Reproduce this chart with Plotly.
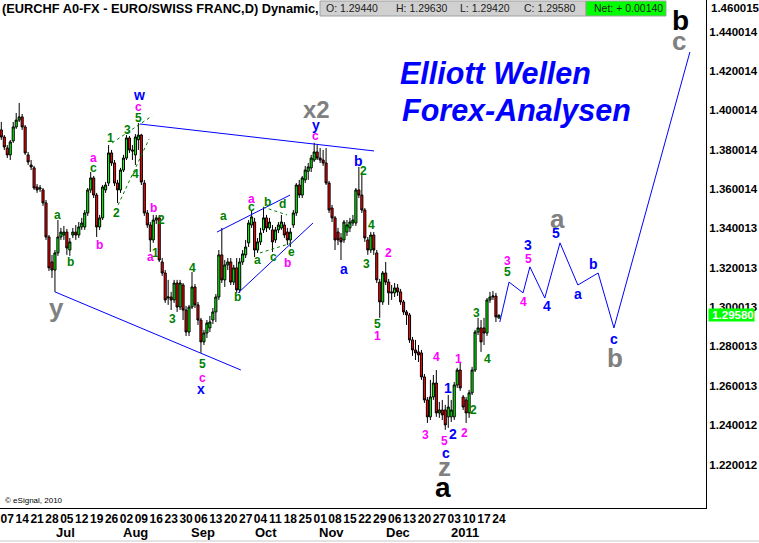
import plotly.graph_objects as go

# ---------------- data ----------------
open_ = [1.3900,1.3864,1.3808,1.3773,1.3844,1.3915,1.3950,1.3966,1.3915,1.3773,
         1.3722,1.3707,1.3610,1.3600,1.3595,1.3529,1.3356,1.3229,1.3188,1.3275,
         1.3356,1.3366,1.3381,1.3290,1.3366,1.3381,1.3366,1.3407,1.3407,1.3478,
         1.3595,1.3656,1.3569,1.3407,1.3453,1.3595,1.3630,1.3783,1.3732,1.3630,
         1.3595,1.3696,1.3757,1.3859,1.3798,1.3773,1.3850,1.3874,1.3630,1.3478,
         1.3417,1.3341,1.3442,1.3453,1.3229,1.3173,1.3046,1.3051,1.3036,1.3122,
         1.3000,1.3112,1.2985,1.2873,1.3000,1.3102,1.3011,1.2934,1.2823,1.2868,
         1.2894,1.2934,1.2975,1.3051,1.3265,1.3138,1.3214,1.3229,1.3127,1.3199,
         1.3087,1.3229,1.3265,1.3326,1.3417,1.3432,1.3290,1.3331,1.3392,1.3453,
         1.3402,1.3392,1.3341,1.3392,1.3402,1.3417,1.3381,1.3341,1.3417,1.3478,
         1.3620,1.3569,1.3646,1.3690,1.3707,1.3747,1.3788,1.3757,1.3747,1.3732,
         1.3630,1.3503,1.3453,1.3381,1.3351,1.3341,1.3381,1.3402,1.3427,1.3427,
         1.3595,1.3569,1.3493,1.3341,1.3290,1.3366,1.3275,1.3127,1.3026,1.3173,
         1.3127,1.3077,1.3072,1.3097,1.3077,1.3026,1.2975,1.2960,1.2833,1.2782,
         1.2772,1.2767,1.2645,1.2528,1.2442,1.2543,1.2614,1.2462,1.2477,1.2477,
         1.2442,1.2442,1.2442,1.2604,1.2680,1.2543,1.2528,1.2462,1.2564,1.2680,
         1.2873,1.2894,1.2894,1.2868,1.3036,1.3051,1.3056,1.2944]
high_ = [1.3940,1.3874,1.3823,1.3849,1.3940,1.3986,1.4037,1.3981,1.3925,1.3788,
         1.3747,1.3717,1.3625,1.3620,1.3605,1.3544,1.3366,1.3265,1.3290,1.3442,
         1.3402,1.3412,1.3397,1.3351,1.3402,1.3417,1.3432,1.3453,1.3493,1.3605,
         1.3686,1.3666,1.3580,1.3468,1.3620,1.3635,1.3823,1.3798,1.3747,1.3646,
         1.3707,1.3773,1.3874,1.3869,1.3823,1.3879,1.3935,1.3880,1.3646,1.3493,
         1.3432,1.3468,1.3468,1.3468,1.3249,1.3188,1.3138,1.3077,1.3138,1.3138,
         1.3138,1.3122,1.3006,1.3011,1.3178,1.3117,1.3026,1.2945,1.2884,1.2934,
         1.2955,1.2995,1.3066,1.3290,1.3402,1.3239,1.3249,1.3249,1.3214,1.3249,
         1.3249,1.3290,1.3341,1.3442,1.3493,1.3453,1.3351,1.3402,1.3508,1.3468,
         1.3453,1.3417,1.3407,1.3432,1.3468,1.3432,1.3402,1.3402,1.3493,1.3630,
         1.3646,1.3666,1.3717,1.3732,1.3773,1.3834,1.3823,1.3808,1.3798,1.3808,
         1.3641,1.3519,1.3463,1.3402,1.3376,1.3442,1.3442,1.3453,1.3468,1.3605,
         1.3712,1.3681,1.3503,1.3356,1.3381,1.3381,1.3290,1.3143,1.3183,1.3229,
         1.3143,1.3112,1.3122,1.3117,1.3092,1.3036,1.2985,1.2970,1.2848,1.2833,
         1.2807,1.2782,1.2660,1.2543,1.2630,1.2655,1.2680,1.2518,1.2528,1.2503,
         1.2553,1.2528,1.2619,1.2691,1.2716,1.2553,1.2543,1.2579,1.2696,1.2884,
         1.2945,1.2934,1.2945,1.3046,1.3077,1.3082,1.3072,1.2963]
low_ = [1.3849,1.3798,1.3757,1.3747,1.3834,1.3905,1.3940,1.3900,1.3773,1.3722,
        1.3696,1.3595,1.3580,1.3585,1.3514,1.3341,1.3183,1.3148,1.3077,1.3260,
        1.3341,1.3341,1.3265,1.3260,1.3351,1.3341,1.3351,1.3392,1.3392,1.3463,
        1.3580,1.3554,1.3356,1.3392,1.3442,1.3580,1.3615,1.3717,1.3615,1.3529,
        1.3580,1.3686,1.3747,1.3783,1.3747,1.3722,1.3798,1.3620,1.3463,1.3402,
        1.3280,1.3326,1.3422,1.3229,1.3158,1.3021,1.3011,1.2985,1.3021,1.2975,
        1.2985,1.2934,1.2853,1.2853,1.2990,1.2995,1.2909,1.2767,1.2807,1.2843,
        1.2873,1.2914,1.2924,1.3036,1.3122,1.3102,1.3188,1.3112,1.3112,1.3072,
        1.3072,1.3214,1.3249,1.3305,1.3402,1.3254,1.3275,1.3315,1.3376,1.3381,
        1.3392,1.3280,1.3326,1.3376,1.3392,1.3351,1.3315,1.3305,1.3402,1.3463,
        1.3554,1.3554,1.3630,1.3646,1.3686,1.3737,1.3747,1.3732,1.3717,1.3620,
        1.3478,1.3432,1.3290,1.3315,1.3239,1.3326,1.3361,1.3381,1.3412,1.3412,
        1.3554,1.3478,1.3331,1.3265,1.3275,1.3265,1.3122,1.2945,1.3011,1.3112,
        1.3011,1.3036,1.3051,1.3056,1.3011,1.2960,1.2909,1.2818,1.2752,1.2731,
        1.2721,1.2630,1.2513,1.2411,1.2426,1.2528,1.2442,1.2437,1.2426,1.2376,
        1.2386,1.2416,1.2426,1.2589,1.2574,1.2477,1.2411,1.2437,1.2553,1.2670,
        1.2858,1.2772,1.2807,1.2853,1.3021,1.3036,1.2924,1.2942]
close_ = [1.3864,1.3813,1.3773,1.3839,1.3915,1.3950,1.3966,1.3915,1.3783,1.3737,
          1.3712,1.3605,1.3595,1.3605,1.3529,1.3356,1.3199,1.3188,1.3275,1.3356,
          1.3381,1.3381,1.3300,1.3331,1.3381,1.3366,1.3407,1.3427,1.3478,1.3595,
          1.3656,1.3569,1.3407,1.3453,1.3610,1.3620,1.3783,1.3732,1.3630,1.3595,
          1.3696,1.3757,1.3859,1.3798,1.3793,1.3864,1.3874,1.3635,1.3478,1.3417,
          1.3341,1.3442,1.3453,1.3239,1.3173,1.3036,1.3051,1.3036,1.3122,1.3000,
          1.3122,1.2985,1.2873,1.3000,1.3102,1.3011,1.2934,1.2823,1.2868,1.2919,
          1.2924,1.2975,1.3051,1.3265,1.3138,1.3214,1.3229,1.3127,1.3199,1.3087,
          1.3229,1.3270,1.3305,1.3427,1.3458,1.3290,1.3331,1.3376,1.3453,1.3402,
          1.3432,1.3331,1.3392,1.3417,1.3432,1.3366,1.3341,1.3381,1.3478,1.3620,
          1.3569,1.3656,1.3696,1.3712,1.3757,1.3788,1.3757,1.3747,1.3732,1.3630,
          1.3493,1.3453,1.3341,1.3341,1.3331,1.3432,1.3417,1.3432,1.3442,1.3595,
          1.3569,1.3493,1.3351,1.3290,1.3366,1.3290,1.3138,1.3026,1.3173,1.3127,
          1.3072,1.3072,1.3097,1.3077,1.3026,1.2975,1.2960,1.2833,1.2782,1.2767,
          1.2757,1.2645,1.2528,1.2442,1.2543,1.2614,1.2462,1.2477,1.2452,1.2401,
          1.2492,1.2477,1.2604,1.2680,1.2589,1.2492,1.2462,1.2564,1.2680,1.2873,
          1.2894,1.2823,1.2868,1.3036,1.3051,1.3056,1.2950,1.2958]

week_ticks = ["07","14","21","28","05","12","19","26","02","09","16","23","30",
              "06","13","20","27","04","11","18","25","01","08","15","22","29",
              "06","13","20","27","03","10","17","24"]
month_names = ["Jul", "Aug", "Sep", "Oct", "Nov", "Dec", "2011"]
month_bar = [21.4, 45.2, 67.7, 88.8, 110.9, 133.1, 155.6]

price_ticks = [1.22, 1.24, 1.26, 1.28, 1.30, 1.32, 1.34, 1.36, 1.38, 1.40, 1.42, 1.44]
price_tick_text = ["1.220012", "1.240012", "1.260013", "1.280013", "1.300013", "1.320013",
                   "1.340013", "1.360014", "1.380014", "1.400014", "1.420014", "1.440014"]

# projected wave path (bar index, price)
proj_x = [167.3, 170.4, 175.1, 177.4, 182.4, 187.5, 193.5, 200.3, 205.6, 231.1]
proj_y = [1.2924, 1.3127, 1.3072, 1.3204, 1.3046, 1.3326, 1.3112, 1.3173, 1.2894, 1.4296]

# blue trend lines (start/end bar index and price)
lower_line_x = [18.0, 80.4]
lower_line_y = [1.3077, 1.2680]
upper_line_x = [46.5, 125.1]
upper_line_y = [1.3930, 1.3793]
chan_top_x = [72.4, 96.9]
chan_top_y = [1.3381, 1.3569]
chan_bot_x = [79.5, 104.6]
chan_bot_y = [1.3072, 1.3427]
# green wedge / triangle lines
wedge_top_x = [37.2, 50.6]
wedge_top_y = [1.3834, 1.3971]
wedge_bot_x = [39.2, 49.6]
wedge_bot_y = [1.3519, 1.3854]
tri_top_x = [87.8, 95.9]
tri_top_y = [1.3508, 1.3468]
tri_bot_x = [86.8, 97.6]
tri_bot_y = [1.3275, 1.3326]

GREEN, MAG, BLUE, GRAY, BLACK = "#008000", "#ff00ff", "#0000ff", "#808080", "#000000"

# wave labels: text, colour, font size, bar index, price
labels = [
    ("w", BLUE, 14, 46.2, 1.4077), ("c", MAG, 12, 45.9, 1.4016), ("5", GREEN, 12, 45.9, 1.3961),
    ("1", GREEN, 12, 36.8, 1.3859), ("3", GREEN, 12, 42.2, 1.3900), ("2", GREEN, 12, 38.8, 1.3478),
    ("4", GREEN, 12, 44.9, 1.3676), ("a", MAG, 12, 30.8, 1.3757), ("c", GREEN, 12, 31.1, 1.3707),
    ("a", GREEN, 12, 18.7, 1.3468), ("b", GREEN, 12, 23.1, 1.3229), ("b", MAG, 12, 33.1, 1.3315),
    ("b", MAG, 12, 51.2, 1.3503), ("2", GREEN, 12, 53.9, 1.3442), ("a", MAG, 12, 50.2, 1.3254),
    ("1", GREEN, 12, 51.9, 1.3275), ("4", GREEN, 12, 64.3, 1.3199), ("3", GREEN, 12, 57.3, 1.2940),
    ("5", GREEN, 12, 67.4, 1.2711), ("c", MAG, 12, 67.4, 1.2640), ("x", BLUE, 14, 67.0, 1.2584),
    ("y", GRAY, 26, 18.4, 1.2995), ("a", GREEN, 12, 74.4, 1.3463), ("b", GREEN, 12, 79.4, 1.3051),
    ("x2", GRAY, 24, 105.9, 1.4006), ("y", BLUE, 14, 105.6, 1.3925), ("c", MAG, 12, 105.3, 1.3869),
    ("a", MAG, 12, 84.1, 1.3549), ("c", GREEN, 12, 84.1, 1.3508), ("b", GREEN, 12, 89.5, 1.3534),
    ("d", GREEN, 12, 94.5, 1.3524), ("a", GREEN, 12, 86.1, 1.3239), ("c", GREEN, 12, 91.2, 1.3254),
    ("e", GREEN, 12, 97.5, 1.3280), ("b", MAG, 12, 96.2, 1.3224), ("b", BLUE, 14, 120.0, 1.3742),
    ("2", GREEN, 12, 121.4, 1.3691), ("4", GREEN, 12, 124.4, 1.3417), ("a", BLUE, 14, 115.0, 1.3194),
    ("3", GREEN, 12, 122.4, 1.3219), ("2", MAG, 12, 129.8, 1.3275), ("5", GREEN, 12, 126.4, 1.2914),
    ("1", MAG, 12, 126.4, 1.2853), ("4", MAG, 12, 145.9, 1.2747), ("1", BLUE, 14, 149.9, 1.2589),
    ("1", MAG, 12, 153.6, 1.2736), ("3", MAG, 12, 142.5, 1.2350), ("2", BLUE, 14, 151.6, 1.2355),
    ("2", MAG, 12, 155.6, 1.2360), ("2", GREEN, 12, 158.6, 1.2477), ("3", GREEN, 12, 159.6, 1.2970),
    ("4", GREEN, 12, 163.0, 1.2736), ("3", MAG, 12, 170.0, 1.3234), ("5", GREEN, 12, 170.0, 1.3178),
    ("5", MAG, 12, 148.6, 1.2320), ("c", BLUE, 14, 149.2, 1.2259), ("z", GRAY, 26, 148.9, 1.2188),
    ("4", MAG, 12, 175.1, 1.3026), ("3", BLUE, 14, 176.8, 1.3315), ("5", MAG, 12, 176.8, 1.3244),
    ("4", BLUE, 14, 183.1, 1.3006), ("5", BLUE, 14, 186.1, 1.3376), ("a", GRAY, 26, 186.5, 1.3447),
    ("a", BLUE, 14, 193.5, 1.3066), ("b", BLUE, 14, 198.6, 1.3219), ("c", BLUE, 14, 205.6, 1.2838),
    ("b", GRAY, 26, 205.9, 1.2741), ("b", BLACK, 28, 227.8, 1.4458), ("c", GRAY, 26, 227.4, 1.4352),
    ("a", BLACK, 28, 148.2, 1.2081),
]

SANS = "Liberation Sans, Arial, sans-serif"

fig = go.Figure()
fig.add_trace(go.Candlestick(
    x=list(range(len(close_))), open=open_, high=high_, low=low_, close=close_,
    increasing=dict(fillcolor="#00ff00", line=dict(color="#000000", width=1)),
    decreasing=dict(fillcolor="#ff0000", line=dict(color="#000000", width=1)),
    whiskerwidth=0, showlegend=False, hoverinfo="skip"))

for xs, ys in [(lower_line_x, lower_line_y), (upper_line_x, upper_line_y),
               (chan_top_x, chan_top_y), (chan_bot_x, chan_bot_y)]:
    fig.add_trace(go.Scatter(x=xs, y=ys, mode="lines", line=dict(color=BLUE, width=1),
                             showlegend=False, hoverinfo="skip"))
for xs, ys in [(wedge_top_x, wedge_top_y), (wedge_bot_x, wedge_bot_y),
               (tri_top_x, tri_top_y), (tri_bot_x, tri_bot_y)]:
    fig.add_trace(go.Scatter(x=xs, y=ys, mode="lines", line=dict(color=GREEN, width=1, dash="dot"),
                             showlegend=False, hoverinfo="skip"))
fig.add_trace(go.Scatter(x=proj_x, y=proj_y, mode="lines", line=dict(color=BLUE, width=1),
                         showlegend=False, hoverinfo="skip"))

ann = []
for txt, col, size, bx, py in labels:
    ann.append(dict(x=bx, y=py, xref="x", yref="y", text=txt, showarrow=False,
                    font=dict(family=SANS, size=size, color=col, weight="bold"),
                    xanchor="center", yanchor="middle"))

for name, bx in zip(month_names, month_bar):
    ann.append(dict(x=bx, y=-0.049, xref="x", yref="paper", text=name, showarrow=False,
                    font=dict(family=SANS, size=13, color="black", weight="bold"),
                    xanchor="center", yanchor="middle"))

W, H = 706.0, 508.0
# header
ann.append(dict(x=0, y=1 - 9 / H, xref="paper", yref="paper", xanchor="left", yanchor="middle",
                text="(EURCHF A0-FX - EURO/SWISS FRANC,D) Dynamic,", showarrow=False,
                font=dict(family=SANS, size=12.8, color="black", weight="bold")))
hdr = [("O: 1.29440", 324), ("H: 1.29630", 394), ("L: 1.29420", 458), ("C: 1.29580", 522),
       ("Net: + 0.00140", 592)]
for txt, px in hdr:
    ann.append(dict(x=px / W, y=1 - 8.5 / H, xref="paper", yref="paper", xanchor="left",
                    yanchor="middle", text=txt, showarrow=False,
                    font=dict(family=SANS, size=10.5, color="#202020")))
ann.append(dict(x=398 / W, y=1 - 73 / H, xref="paper", yref="paper", xanchor="left", yanchor="middle",
                text="<i>Elliott Wellen</i>", showarrow=False,
                font=dict(family=SANS, size=30.5, color=BLUE, weight="bold")))
ann.append(dict(x=400 / W, y=1 - 110 / H, xref="paper", yref="paper", xanchor="left", yanchor="middle",
                text="<i>Forex-Analysen</i>", showarrow=False,
                font=dict(family=SANS, size=30.5, color=BLUE, weight="bold")))
ann.append(dict(x=3 / W, y=1 - 500 / H, xref="paper", yref="paper", xanchor="left", yanchor="middle",
                text="© eSignal, 2010", showarrow=False,
                font=dict(family=SANS, size=8, color="black")))
ann.append(dict(x=1 + 3 / W, y=1 - 8 / H, xref="paper", yref="paper", xanchor="left", yanchor="middle",
                text="1.460015", showarrow=False,
                font=dict(family=SANS, size=11.5, color="black", weight="bold")))
ann.append(dict(x=1 + 2 / W, y=close_[-1], xref="paper", yref="y", xanchor="left", yanchor="middle",
                text=" 1.29580", showarrow=False, bgcolor="#00ff00", borderpad=0,
                font=dict(family=SANS, size=11.5, color="white", weight="bold")))

shapes = [
    dict(type="rect", xref="paper", yref="paper", x0=320 / W, x1=586 / W, y0=1 - 16 / H, y1=1 - 1 / H,
         fillcolor="#d0d0d0", line=dict(color="#a0a0a0", width=1), layer="below"),
    dict(type="rect", xref="paper", yref="paper", x0=586 / W, x1=666 / W, y0=1 - 16 / H, y1=1 - 1 / H,
         fillcolor="#00ff00", line=dict(color="#a0a0a0", width=1), layer="below"),
    dict(type="line", xref="paper", yref="paper", x0=0, x1=759 / W, y0=1 - 541 / H, y1=1 - 541 / H,
         line=dict(color="#c8c8c8", width=1)),
]

fig.update_layout(
    width=759, height=543, template="none",
    margin=dict(l=0, r=53, t=0, b=35, autoexpand=False),
    paper_bgcolor="white", plot_bgcolor="white", showlegend=False,
    boxgap=0.0,
    annotations=ann, shapes=shapes,
    xaxis=dict(range=[-0.44, 236.5], rangeslider=dict(visible=False), showgrid=False,
               zeroline=False, showline=True, linecolor="black", linewidth=1,
               tickmode="array", tickvals=[2 + 5 * k for k in range(len(week_ticks))],
               ticktext=week_ticks, ticks="", tickangle=0, automargin=False,
               tickfont=dict(family=SANS, size=12, color="black", weight="bold")),
    yaxis=dict(side="right", range=[1.1979, 1.456], showgrid=False, zeroline=False,
               showline=True, linecolor="black", linewidth=1, tickmode="array",
               tickvals=price_ticks, ticktext=price_tick_text, ticks="", automargin=False,
               tickfont=dict(family=SANS, size=11.5, color="black", weight="bold")),
)

fig.write_html("out.html", config={"displayModeBar": False},
               post_script="document.body.style.margin='0';")
